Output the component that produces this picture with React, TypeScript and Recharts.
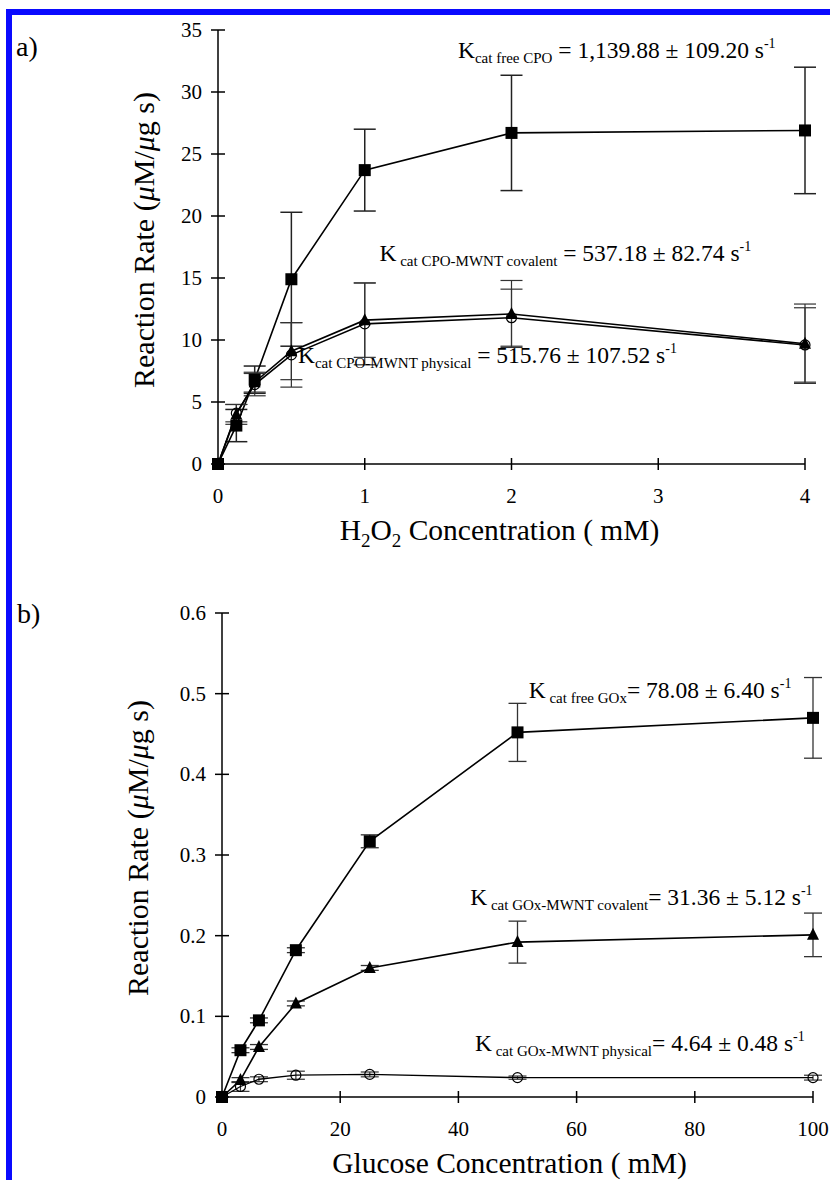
import React from "react";
import { LineChart, Line, XAxis, YAxis, ErrorBar, ReferenceDot } from "recharts";

// panel a: H2O2 / CPO
const h2o2Conc = [0, 0.125, 0.25, 0.5, 1, 2, 4];
const cpoFree = [0, 3.1, 6.8, 14.9, 23.7, 26.7, 26.9];
const cpoFreeErr = [0, 1.3, 1.1, 5.4, 3.3, 4.65, 5.1];
const cpoCovalent = [0, 4.0, 6.6, 9.1, 11.6, 12.1, 9.7];
const cpoCovalentErr = [0, 0.8, 0.8, 2.3, 3.0, 2.7, 3.2];
const cpoPhysical = [0, 4.1, 6.4, 8.8, 11.3, 11.8, 9.6];
const cpoPhysicalErr = [0, 0.7, 0.9, 2.6, 3.3, 2.3, 3.0];
const h2o2Ticks = [0, 1, 2, 3, 4];
const cpoRateTicks = [0, 5, 10, 15, 20, 25, 30, 35];

// panel b: glucose / GOx
const glucoseConc = [0, 3.125, 6.25, 12.5, 25, 50, 100];
const goxFree = [0, 0.058, 0.095, 0.182, 0.317, 0.452, 0.47];
const goxFreeErr = [0, 0.003, 0.003, 0.003, 0.008, 0.036, 0.05];
const goxCovalent = [0, 0.021, 0.062, 0.116, 0.16, 0.192, 0.201];
const goxCovalentErr = [0, 0.003, 0.003, 0.003, 0.003, 0.026, 0.027];
const goxPhysical = [0, 0.013, 0.022, 0.027, 0.028, 0.024, 0.024];
const goxPhysicalErr = [0, 0.006, 0.003, 0.005, 0.003, 0.002, 0.003];
const glucoseTicks = [0, 20, 40, 60, 80, 100];
const goxRateTicks = [0, 0.1, 0.2, 0.3, 0.4, 0.5, 0.6];

const FONT = "'Liberation Serif', 'Times New Roman', serif";

const cpoData = h2o2Conc.map((x, i) => ({
    x,
    free: cpoFree[i],
    freeErr: cpoFreeErr[i],
    covalent: cpoCovalent[i],
    covalentErr: cpoCovalentErr[i],
    physical: cpoPhysical[i],
    physicalErr: cpoPhysicalErr[i],
}));

const goxData = glucoseConc.map((x, i) => ({
    x,
    free: goxFree[i],
    freeErr: goxFreeErr[i],
    covalent: goxCovalent[i],
    covalentErr: goxCovalentErr[i],
    physical: goxPhysical[i],
    physicalErr: goxPhysicalErr[i],
}));

const squareDot = (p: any) => {
    if (p.cx == null || p.cy == null) return <g key={`sq-${p.index}`} />;
    return <rect key={`sq-${p.index}`} x={p.cx - 6} y={p.cy - 6} width={12} height={12} fill="#000" />;
};

const triangleDot = (p: any) => {
    if (p.cx == null || p.cy == null) return <g key={`tr-${p.index}`} />;
    const { cx, cy } = p;
    return (
        <polygon
            key={`tr-${p.index}`}
            points={`${cx},${cy - 7} ${cx - 6},${cy + 5} ${cx + 6},${cy + 5}`}
            fill="#000"
        />
    );
};

const circleDot = (p: any) => {
    if (p.cx == null || p.cy == null) return <g key={`ci-${p.index}`} />;
    return <circle key={`ci-${p.index}`} cx={p.cx} cy={p.cy} r={5} fill="none" stroke="#000" strokeWidth={1.2} />;
};

const XTick = ({ x, y, payload }: any) => (
    <g>
        <line x1={x} x2={x} y1={y - 6} y2={y + 6} stroke="#000" strokeWidth={1.5} />
        <text x={x} y={y + 39} textAnchor="middle" fontFamily={FONT} fontSize={21} fill="#000">
            {payload.value}
        </text>
    </g>
);

const YTick = ({ x, y, payload }: any) => (
    <g>
        <line x1={x - 7} x2={x + 7} y1={y} y2={y} stroke="#000" strokeWidth={1.5} />
        <text x={x - 16} y={y + 7} textAnchor="end" fontFamily={FONT} fontSize={21} fill="#000">
            {payload.value}
        </text>
    </g>
);

const yTitle = (offset: number) => ({ viewBox }: any) => {
    const cx = viewBox.x + viewBox.width - offset;
    const cy = viewBox.y + viewBox.height / 2 - 7;
    return (
        <text
            x={cx}
            y={cy}
            transform={`rotate(-90, ${cx}, ${cy})`}
            textAnchor="middle"
            fontFamily={FONT}
            fontSize={30}
            fill="#000"
        >
            Reaction Rate (<tspan fontStyle="italic">μ</tspan>M/<tspan fontStyle="italic">μ</tspan>g s)
        </text>
    );
};

const kcatLabel = (sub: string, value: string) => ({ viewBox }: any) => (
    <text x={viewBox.x} y={viewBox.y + 8} fontFamily={FONT} fontSize={23.5} fill="#000">
        K
        <tspan fontSize={15} dy={5}>{sub}</tspan>
        <tspan fontSize={23.5} dy={-5}>{value} s</tspan>
        <tspan fontSize={14} dy={-10}>-1</tspan>
    </text>
);

const axisLine = { stroke: "#000", strokeWidth: 1.5 };

export default function App() {
    return (
        <div
            style={{
                position: "absolute",
                left: 0,
                top: 0,
                width: 830,
                height: 1180,
                background: "#fff",
                overflow: "hidden",
                fontFamily: FONT,
            }}
        >
            <div
                style={{
                    position: "absolute",
                    left: 6,
                    top: 9,
                    width: 830,
                    height: 1180,
                    borderLeft: "6px solid #0a0aff",
                    borderTop: "6px solid #0a0aff",
                    boxSizing: "border-box",
                }}
            />
            <div style={{ position: "absolute", left: 16, top: 31, fontSize: 28, lineHeight: "32px" }}>a)</div>
            <div style={{ position: "absolute", left: 17, top: 598, fontSize: 28, lineHeight: "32px" }}>b)</div>

            {/* panel a */}
            <div style={{ position: "absolute", left: 0, top: 0 }}>
                <LineChart width={830} height={590} data={cpoData} margin={{ top: 30, right: 25, bottom: 46, left: 138 }}>
                    <XAxis
                        dataKey="x"
                        type="number"
                        domain={[0, 4]}
                        ticks={h2o2Ticks}
                        height={80}
                        tickSize={0}
                        tickMargin={0}
                        tickLine={false}
                        axisLine={axisLine}
                        tick={<XTick />}
                        label={({ viewBox }: any) => (
                            <text
                                x={viewBox.x + viewBox.width / 2 - 12}
                                y={viewBox.y + 76}
                                textAnchor="middle"
                                fontFamily={FONT}
                                fontSize={29.5}
                                fill="#000"
                            >
                                H<tspan fontSize={19} dy={7}>2</tspan>
                                <tspan dy={-7}>O</tspan>
                                <tspan fontSize={19} dy={7}>2</tspan>
                                <tspan dy={-7}> Concentration ( mM)</tspan>
                            </text>
                        )}
                    />
                    <YAxis
                        type="number"
                        domain={[0, 35]}
                        ticks={cpoRateTicks}
                        width={80}
                        tickSize={0}
                        tickMargin={0}
                        tickLine={false}
                        axisLine={axisLine}
                        tick={<YTick />}
                        label={yTitle(64)}
                    />
                    <Line dataKey="free" type="linear" stroke="#000" strokeWidth={1.6} dot={squareDot} isAnimationActive={false}>
                        <ErrorBar dataKey="freeErr" width={11} stroke="#222" strokeWidth={1.5} />
                    </Line>
                    <Line dataKey="covalent" type="linear" stroke="#000" strokeWidth={1.6} dot={triangleDot} isAnimationActive={false}>
                        <ErrorBar dataKey="covalentErr" width={11} stroke="#333" strokeWidth={1.2} />
                    </Line>
                    <Line dataKey="physical" type="linear" stroke="#000" strokeWidth={1.6} dot={circleDot} isAnimationActive={false}>
                        <ErrorBar dataKey="physicalErr" width={11} stroke="#333" strokeWidth={1.2} />
                    </Line>
                    <ReferenceDot x={1.635} y={33.4} r={0} fill="none" stroke="none"
                        label={kcatLabel("cat free CPO", " = 1,139.88 ± 109.20")} />
                    <ReferenceDot x={1.1} y={17.0} r={0} fill="none" stroke="none"
                        label={kcatLabel(" cat CPO-MWNT covalent", " = 537.18 ± 82.74")} />
                    <ReferenceDot x={0.545} y={8.8} r={0} fill="none" stroke="none"
                        label={kcatLabel("cat CPO-MWNT physical", " = 515.76 ± 107.52")} />
                </LineChart>
            </div>

            {/* panel b */}
            <div style={{ position: "absolute", left: 0, top: 590 }}>
                <LineChart width={830} height={590} data={goxData} margin={{ top: 23, right: 17, bottom: 23, left: 142 }}>
                    <XAxis
                        dataKey="x"
                        type="number"
                        domain={[0, 100]}
                        ticks={glucoseTicks}
                        height={60}
                        tickSize={0}
                        tickMargin={0}
                        tickLine={false}
                        axisLine={axisLine}
                        tick={<XTick />}
                        label={({ viewBox }: any) => (
                            <text
                                x={viewBox.x + viewBox.width / 2 - 8}
                                y={viewBox.y + 76}
                                textAnchor="middle"
                                fontFamily={FONT}
                                fontSize={29.5}
                                fill="#000"
                            >
                                Glucose Concentration ( mM)
                            </text>
                        )}
                    />
                    <YAxis
                        type="number"
                        domain={[0, 0.6]}
                        ticks={goxRateTicks}
                        width={80}
                        tickSize={0}
                        tickMargin={0}
                        tickLine={false}
                        axisLine={axisLine}
                        tick={<YTick />}
                        label={yTitle(74)}
                    />
                    <Line dataKey="free" type="linear" stroke="#000" strokeWidth={1.6} dot={squareDot} isAnimationActive={false}>
                        <ErrorBar dataKey="freeErr" width={9} stroke="#333" strokeWidth={1.3} />
                    </Line>
                    <Line dataKey="covalent" type="linear" stroke="#000" strokeWidth={1.6} dot={triangleDot} isAnimationActive={false}>
                        <ErrorBar dataKey="covalentErr" width={9} stroke="#333" strokeWidth={1.3} />
                    </Line>
                    <Line dataKey="physical" type="linear" stroke="#000" strokeWidth={1.3} dot={circleDot} isAnimationActive={false}>
                        <ErrorBar dataKey="physicalErr" width={9} stroke="#333" strokeWidth={1.2} />
                    </Line>
                    <ReferenceDot x={51.9} y={0.504} r={0} fill="none" stroke="none"
                        label={kcatLabel(" cat free GOx", "= 78.08 ± 6.40")} />
                    <ReferenceDot x={42} y={0.248} r={0} fill="none" stroke="none"
                        label={kcatLabel(" cat GOx-MWNT covalent", "= 31.36 ± 5.12")} />
                    <ReferenceDot x={42.8} y={0.067} r={0} fill="none" stroke="none"
                        label={kcatLabel(" cat GOx-MWNT physical", "= 4.64 ± 0.48")} />
                </LineChart>
            </div>
        </div>
    );
}
